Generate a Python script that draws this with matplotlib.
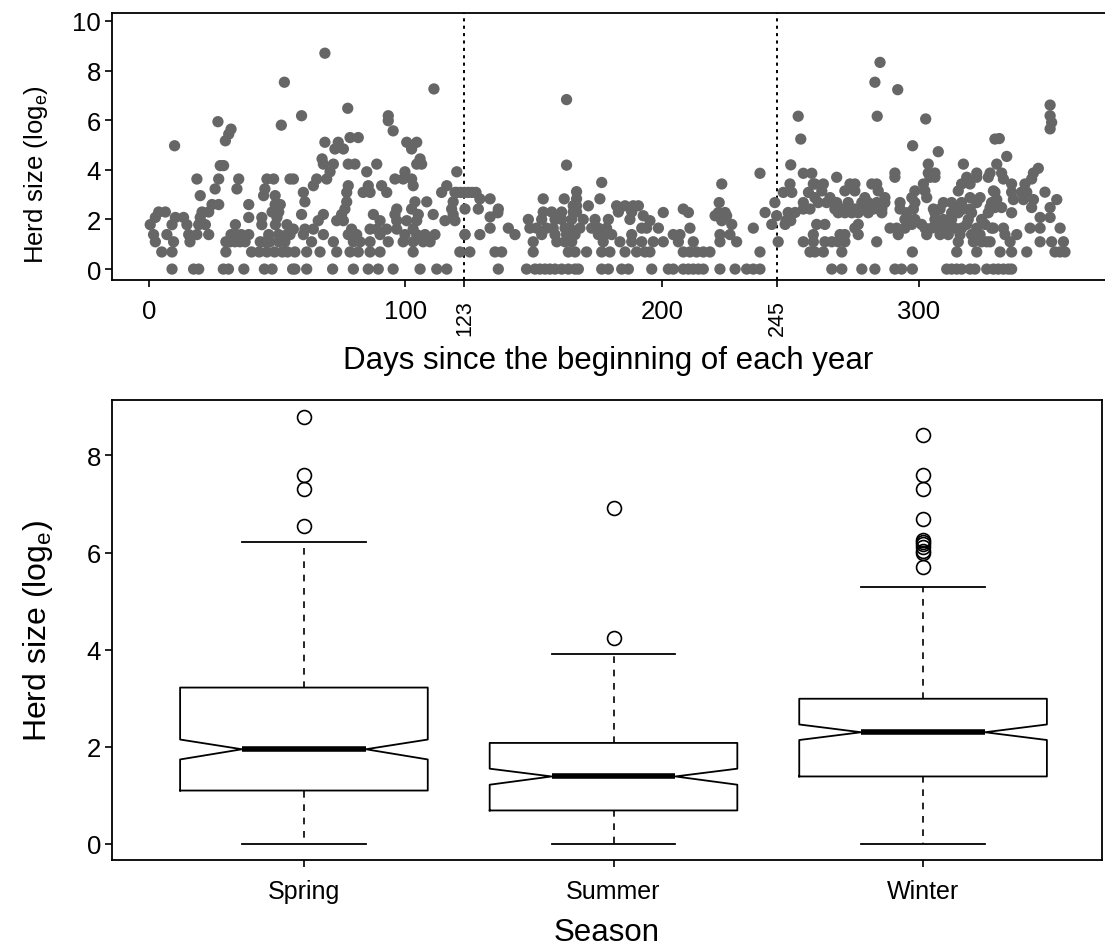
import matplotlib.pyplot as plt

plt.rcParams['font.family'] = ['Liberation Sans', 'DejaVu Sans']
plt.rcParams['mathtext.fontset'] = 'custom'
plt.rcParams['mathtext.rm'] = 'Liberation Sans'

# scatter data: (log herd size, [days]), by stretch of the year
early_year = [
    (0.00, [9, 17.4, 19.4, 29, 31, 37, 45, 48, 56]),
    (0.69, [5, 9, 30, 40, 43, 46, 49, 52, 54]),
    (1.10, [2.5, 9.6, 16, 30, 31.6, 33.5, 35.5, 37.5, 43.4, 45.3, 47.2, 50.7, 53]),
    (1.39, [1.8, 7, 15.5, 18.7, 23.3, 32, 34, 36, 38.9, 46.7, 50.6, 53.8]),
    (1.79, [0.5, 9, 14.8, 19.4, 22, 33.7, 44, 49.3, 53.8]),
    (2.08, [2.5, 10.3, 13.5, 20, 38.9, 44, 49.9]),
    (2.30, [3.8, 6.4, 20.7, 23.3, 48, 50.6]),
    (2.60, [24.6, 27.2, 38.9, 49.2, 51.2]),
    (2.96, [20, 44.7, 49.2]),
    (3.23, [25.8, 34.3, 45.2]),
    (3.63, [18.7, 27.2, 35, 46, 48.6, 55]),
    (4.17, [27.8, 29.1]),
    (4.97, [10]), (5.17, [29.8]), (5.44, [31.1]), (5.64, [32]),
    (5.94, [26.9]), (5.80, [51.6]), (7.53, [52.8]),
]
spring_late = [
    (0.00, [56.9, 61.5, 71.6, 79.7, 85.5, 89.4, 95.2, 105.7, 112.2, 116.1]),
    (0.69, [56.9, 61.5, 66.7, 73.2, 78.4, 81.6, 86.2, 90.1, 103, 121.2]),
    (1.10, [63.4, 71.9, 79.7, 82.3, 86.2, 93.3, 99.1, 103, 106.9, 109.6]),
    (1.39, [55, 60.2, 68, 77.7, 81, 90.1, 99.8, 104.4, 107.6, 111.5, 123.2]),
    (1.61, [56.3, 60.8, 64.1, 79, 86.2, 88.8, 92.7, 96.6, 103]),
    (1.95, [66, 73.2, 75.8, 90.1, 96.6, 100.5, 104.4, 115.4, 119.3]),
    (2.20, [59.5, 68, 75.1, 87.5, 95.9, 105, 110.8, 118.6]),
    (2.42, [76.4, 96.6, 102.4, 118]),
    (2.71, [60.8, 77.1, 103.7, 108.3, 118.6]),
    (3.09, [60.2, 77.1, 83.5, 86.2, 92.7, 114.1, 119.3, 120, 121.5, 123, 124.5, 126, 127.5]),
    (3.36, [64.1, 77.7, 85.5, 90.7, 103, 116.1]),
    (3.63, [56.3, 65.4, 69.3, 95.9, 99.1, 102.4]),
    (3.92, [70.6, 84.9, 99.8, 120]),
    (4.23, [68, 71.9, 77.7, 80.3, 88.8, 104.4, 106.3]),
    (4.44, [67.5, 105.7]),
    (4.84, [72.5, 75.8, 102.4]),
    (5.11, [68.6, 73.8, 100.5, 104.4]),
    (5.30, [78.4, 81.6]),
    (5.57, [95.2]), (5.98, [93.3]), (6.18, [59.5, 93.3]),
    (6.48, [77.5]), (7.26, [111.1]), (8.70, [68.6]),
]
summer_pts = [
    (0.00, [136.2, 147.2, 150.5, 152.4, 154.4, 156.3, 158.3, 160.9, 163.5, 166.1,
            167.4, 176.5, 179.1, 184.3, 186.9]),
    (0.69, [125.1, 134.9, 137.5, 149.8, 163.5, 166.1, 170.6, 176.5, 179.7, 185.6, 190.1, 193.4]),
    (1.10, [149.8, 159, 162.2, 164.8, 177.1, 183.6, 188.2, 192.1]),
    (1.39, [123.2, 129, 142.7, 153.1, 158.3, 162.8, 164.1, 166.1, 175.2, 177.8, 180.4, 188.2]),
    (1.65, [133, 140.1, 148.5, 151.1, 155, 157.6, 162.2, 164.1, 168, 172.6, 175.2, 178.4, 192.1]),
    (2.00, [147.9, 153.1, 158.3, 160.9, 164.8, 169.3, 173.9, 179.1, 187.5]),
    (2.10, [133]), (2.27, [136]),
    (2.30, [153.7, 157, 160.9, 165.4, 166.7, 183, 188.2]),
    (2.42, [123.2, 128.4, 136.2]),
    (2.55, [165.4, 166.7, 171.3, 182.3, 185.6, 188.8, 190.8]),
    (2.83, [129, 133, 153.7, 161.9, 166.7, 175.8]),
    (3.12, [166.7]), (3.49, [176.5]), (4.19, [162.8]), (6.83, [162.8]),
]
late_summer = [
    (0.00, [196, 202.5, 204.4, 208.3, 210.3, 212.2, 214.2, 216.1, 222.6, 228.5, 233, 235.6, 238.2]),
    (0.69, [195.3, 208.3, 210.9, 213.5, 216.1, 218.7, 238.2, 257.7]),
    (1.10, [196.6, 200.5, 206.4, 212.2, 222.6, 229.1, 245.3, 255.1, 259]),
    (1.39, [204.4, 207, 222.6, 226.5, 259]),
    (1.65, [194, 198.6, 210.9, 235.6]),
    (1.80, [227.2, 242.8, 248]),
    (1.95, [195.3, 223.3, 248.4, 250.2]),
    (2.15, [192.7, 220.7, 225.2, 244.7]),
    (2.28, [200.5, 210.3, 222, 224.6, 240.2, 249.2, 251.9]),
    (2.42, [208.3, 255.1, 257.7]),
    (2.68, [222.3, 244, 255.1]),
    (3.09, [247.3, 250.6, 257.1]),
    (3.43, [223.3, 249.9, 259]),
    (3.86, [238.2, 255.1, 258.4]),
    (4.20, [250.2]), (5.24, [254.1]), (6.16, [253.1]),
]
winter_pts = [
    (0.00, [266.2, 270.1, 277.9, 283, 290.8, 293.4, 297.6, 311, 312.9, 314.9, 316.8,
            320.1, 322, 326.6, 329.2, 331.1, 333.1, 335, 336.3]),
    (0.69, [259.6, 262.9, 270.1, 297.6, 314.9, 322.7, 331.8, 336.3, 342.2, 353.2, 355.2, 357.1]),
    (1.10, [263.5, 266.2, 268.7, 271.3, 283.7, 315.5, 321.4, 324.6, 326.6, 327.9, 335.7,
            347.4, 351.9, 356.5]),
    (1.39, [269.4, 271.3, 276.5, 292.1, 303.2, 308.4, 311.6, 316.2, 320.7, 324, 333.7, 338.3]),
    (1.65, [275.2, 288.9, 291.5, 294.7, 302.5, 305.1, 307.7, 310.3, 314.2, 316.8, 322.7,
            328.5, 329.2, 333.1, 343.5, 347.4, 355.2]),
    (1.80, [260.3, 263.5, 276.5, 297.4, 301.2, 311, 318.8, 325.9]),
    (2.00, [294.7, 298.6, 306.4, 309.7, 312.9, 319.4, 324.6]),
    (2.08, [347.4, 351.3]),
    (2.27, [268.7, 271.3, 274, 276.5, 280.4, 285.7, 295.4, 306.4, 312.9, 315.5, 320.7,
            327.2, 336.3]),
    (2.42, [267.4, 270.1, 272.6, 275.2, 277.9, 282.4, 285.7, 292.8, 298, 305.8, 308.4,
            314.2, 317.5, 320.1]),
    (2.48, [327.9, 329.8, 332.4, 344.1, 351.3]),
    (2.68, [260.9, 264.2, 268.1, 272.6, 277.9, 280.4, 283.7, 286.9, 292.8, 298.6, 309.7,
            312.9, 316.8, 322.7, 328.5]),
    (2.80, [330.5, 337, 340.9, 344.8, 353.9]),
    (2.88, [259.6, 265.5, 279.1, 286.9, 297.4, 303.2, 320.1, 324]),
    (3.10, [329.8, 336.3, 340.2, 342.2, 349.3]),
    (3.15, [262.3, 271.3, 275.2, 284.3, 298.6, 302.5, 315.5, 329.2]),
    (3.43, [259.6, 262.9, 273.3, 275.2, 281.8, 283.7, 301.9, 316.8, 320.1, 336.3, 341.5]),
    (3.63, [333.1, 344.1]),
    (3.70, [268.1, 290.8, 304.5, 306.4, 318.8, 322.7, 327.2]),
    (3.87, [290.8, 303.8, 306.4, 322.7, 327.9, 332.4, 344.8]),
    (4.06, [346.7]), (4.23, [303.8, 317.5, 330.5]), (4.54, [334.4]),
    (4.73, [307.7]), (4.97, [297.7]), (5.24, [329.8]), (5.26, [331.5]),
    (5.65, [351.3]), (5.91, [351.9]), (6.05, [302.8]), (6.16, [283.9]),
    (6.18, [351.3]), (6.61, [351.3]), (7.23, [291.9]), (7.53, [283]), (8.33, [285]),
]
season_breaks = [123, 245]
day_ticks = [0, 100, 123, 200, 245, 300]

# boxplot summaries (log herd size)
seasons = ['Spring', 'Summer', 'Winter']
box_med = [1.95, 1.39, 2.30]
box_q1 = [1.10, 0.69, 1.39]
box_q3 = [3.22, 2.08, 2.99]
box_lo = [0.0, 0.0, 0.0]
box_hi = [6.21, 3.91, 5.30]
notch_lo = [1.74, 1.22, 2.14]
notch_hi = [2.15, 1.55, 2.46]
outliers = [
    [8.78, 7.60, 7.31, 6.55],
    [6.91, 4.25],
    [8.41, 7.60, 7.31, 6.68, 6.25, 6.21, 6.17, 6.11, 6.04, 5.99, 5.70],
]

fig = plt.figure(figsize=(11.05, 9.53), dpi=100)
W, H = 1105, 953

# ---- top panel: scatter of herd size by day
ax1 = fig.add_axes([112 / W, 1 - 281 / H, (1105 - 112) / W, (281 - 14) / H])
for group in (early_year, spring_late, summer_pts, late_summer, winter_pts):
    for val, ds in group:
        ax1.scatter(ds, [val] * len(ds), s=66, color='#666666', edgecolors='none', zorder=3)
for b in season_breaks:
    ax1.axvline(b, color='black', lw=1.4, linestyle=(0, (1.6, 2.2)), zorder=2)
ax1.set_xlim(-14.4, 372.7)
ax1.set_ylim(-0.44, 10.32)
ax1.set_xticks(day_ticks)
ax1.set_xticklabels([str(d) for d in day_ticks])
ax1.set_yticks(range(0, 11, 2))
ax1.tick_params(axis='x', length=5, width=1.2, pad=9, labelsize=18.5)
ax1.tick_params(axis='y', length=5, width=1.2, pad=3, labelsize=18.5)
# the two season breaks get upright labels
for lbl in ax1.get_xticklabels():
    if lbl.get_text() in ('123', '245'):
        lbl.set_rotation(90)
        lbl.set_fontsize(15.5)
ax1.spines['right'].set_visible(False)
for s in ('left', 'top', 'bottom'):
    ax1.spines[s].set_linewidth(1.3)
ax1.set_xlabel('Days since the beginning of each year', fontsize=22.5, labelpad=7)
ax1.set_ylabel(r'Herd size (log$\mathregular{_e}$)', fontsize=18.5)
ax1.yaxis.set_label_coords(-62 / 993, 106 / 267)

# ---- bottom panel: notched boxplot by season
ax2 = fig.add_axes([112 / W, 1 - 861 / H, (1102 - 112) / W, (861 - 401) / H])
stats = []
for i, name in enumerate(seasons):
    stats.append(dict(label=name, med=box_med[i], q1=box_q1[i], q3=box_q3[i],
                      whislo=box_lo[i], whishi=box_hi[i], fliers=outliers[i],
                      cilo=notch_lo[i], cihi=notch_hi[i]))
ax2.bxp(stats, positions=[1, 2, 3], widths=0.8, shownotches=True,
        boxprops=dict(color='black', lw=1.3),
        whiskerprops=dict(color='black', lw=1.2, linestyle=(0, (4, 4))),
        capprops=dict(color='black', lw=1.3),
        medianprops=dict(color='black', lw=4, solid_capstyle='butt'),
        flierprops=dict(marker='o', markersize=10, markerfacecolor='none',
                        markeredgecolor='black', markeredgewidth=1.2))
ax2.set_xlim(0.38, 3.578)
ax2.set_ylim(-0.33, 9.14)
ax2.set_yticks(range(0, 9, 2))
ax2.tick_params(axis='x', length=5, width=1.2, pad=9, labelsize=18)
ax2.tick_params(axis='y', length=5, width=1.2, pad=3, labelsize=18.5)
for s in ax2.spines.values():
    s.set_linewidth(1.3)
ax2.set_xlabel('Season', fontsize=22.5, labelpad=10)
ax2.set_ylabel(r'Herd size (log$\mathregular{_e}$)', fontsize=23)
ax2.yaxis.set_label_coords(-57 / 990, 0.5)

fig.savefig('out.png', dpi=100)
